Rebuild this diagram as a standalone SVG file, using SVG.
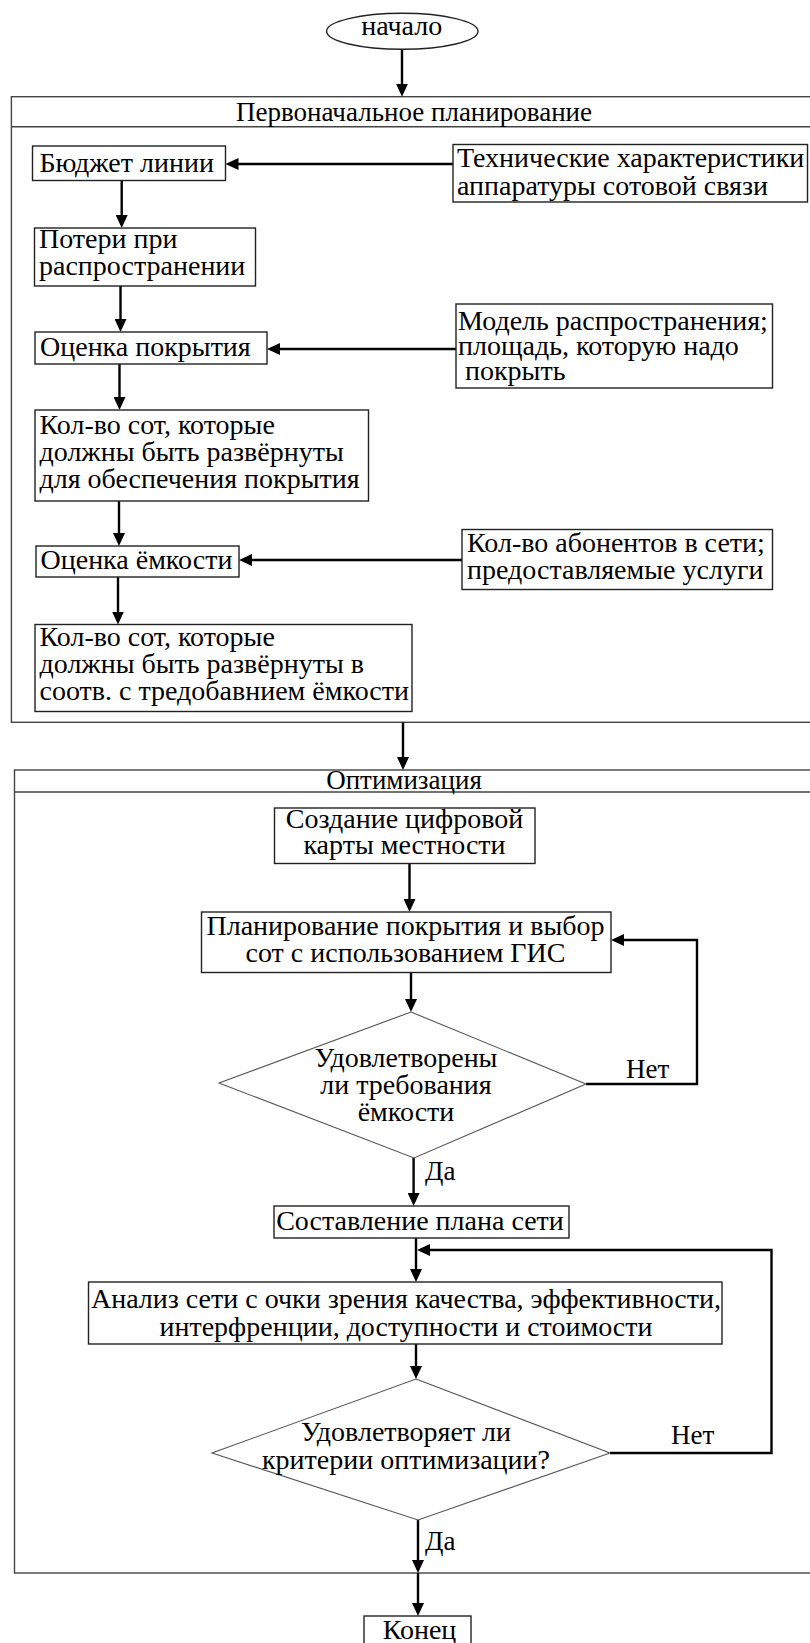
<svg xmlns="http://www.w3.org/2000/svg" width="810" height="1643" viewBox="0 0 810 1643">
<style>
.t{font-family:"Liberation Serif","Times New Roman",serif;font-size:28px;fill:#000}
.h{font-size:27px}
.c{text-anchor:middle}
.box{fill:#fff;stroke:#222;stroke-width:1.4}
.cont{fill:none;stroke:#444;stroke-width:1.4}
.dia{fill:#fff;stroke:#555;stroke-width:1.1}
.conn{fill:none;stroke:#000;stroke-width:2.4}
</style>
<defs>
<marker id="ah" markerUnits="userSpaceOnUse" markerWidth="13" markerHeight="12" refX="6" refY="6" orient="auto"><path d="M0,0 L13,6 L0,12 z" fill="#000"/></marker>
</defs>
<rect width="810" height="1643" fill="#fff"/>

<g id="container-initial">
<rect class="cont" x="11.4" y="96.7" width="830" height="625.6"/>
<line class="cont" x1="11.4" y1="126.7" x2="841" y2="126.7"/>
<text class="t h c" x="414" y="120.5">Первоначальное планирование</text>
</g>
<g id="container-optim">
<rect class="cont" x="14.5" y="770" width="830" height="803"/>
<line class="cont" x1="14.5" y1="792" x2="845" y2="792"/>
<text class="t h c" x="404" y="789">Оптимизация</text>
</g>

<g id="connectors">
<path class="conn" marker-end="url(#ah)" d="M402,49.3 V89.7"/>
<path class="conn" marker-end="url(#ah)" d="M121.7,180.5 V221"/>
<path class="conn" marker-end="url(#ah)" d="M120.5,286 V325"/>
<path class="conn" marker-end="url(#ah)" d="M119.5,364 V403"/>
<path class="conn" marker-end="url(#ah)" d="M119,501 V539"/>
<path class="conn" marker-end="url(#ah)" d="M118,577 V617.5"/>
<path class="conn" marker-end="url(#ah)" d="M403,722.3 V763"/>
<path class="conn" marker-end="url(#ah)" d="M409.5,863.5 V905"/>
<path class="conn" marker-end="url(#ah)" d="M411,972.5 V1005"/>
<path class="conn" marker-end="url(#ah)" d="M413.6,1158 V1199"/>
<path class="conn" marker-end="url(#ah)" d="M416,1238 V1275"/>
<path class="conn" marker-end="url(#ah)" d="M416,1344 V1372"/>
<path class="conn" marker-end="url(#ah)" d="M418,1520 V1566"/>
<path class="conn" marker-end="url(#ah)" d="M418,1573 V1609"/>
<path class="conn" marker-end="url(#ah)" d="M453,164 H232.5"/>
<path class="conn" marker-end="url(#ah)" d="M456,349 H274"/>
<path class="conn" marker-end="url(#ah)" d="M462,560 H246"/>
<path class="conn" marker-end="url(#ah)" d="M586,1084 H697 V940 H618"/>
<path class="conn" marker-end="url(#ah)" d="M610,1453 H771.5 V1250 H424"/>
<text class="t h" x="626" y="1078">Нет</text>
<text class="t h" x="425" y="1180">Да</text>
<text class="t h" x="671" y="1444">Нет</text>
<text class="t h" x="425" y="1550">Да</text>
</g>

<g id="start">
<ellipse cx="402.3" cy="31.3" rx="75.7" ry="18" class="box"/>
<text class="t c" x="401.7" y="35">начало</text>
</g>
<g id="budget">
<rect class="box" x="32.5" y="146" width="193" height="34.5"/>
<text class="t" x="39.5" y="172">Бюджет линии</text>
</g>
<g id="tech">
<rect class="box" x="453" y="144.5" width="354.5" height="57.5"/>
<text class="t"><tspan x="457" y="167">Технические характеристики</tspan><tspan x="457" y="195">аппаратуры сотовой связи</tspan></text>
</g>
<g id="losses">
<rect class="box" x="34.5" y="228" width="221" height="58"/>
<text class="t"><tspan x="39" y="248">Потери при</tspan><tspan x="39" y="275">распространении</tspan></text>
</g>
<g id="coverage">
<rect class="box" x="35" y="332" width="232" height="32"/>
<text class="t" x="40" y="356">Оценка покрытия</text>
</g>
<g id="model">
<rect class="box" x="456" y="304" width="316.5" height="84"/>
<text class="t" xml:space="preserve"><tspan x="458" y="330">Модель распространения;</tspan><tspan x="458" y="355">площадь, которую надо</tspan><tspan x="458" y="380"> покрыть</tspan></text>
</g>
<g id="cells-coverage">
<rect class="box" x="35" y="410" width="333.5" height="91"/>
<text class="t"><tspan x="39.5" y="434">Кол-во сот, которые</tspan><tspan x="39.5" y="461">должны быть развёрнуты</tspan><tspan x="39.5" y="488">для обеспечения покрытия</tspan></text>
</g>
<g id="capacity">
<rect class="box" x="36" y="546" width="203" height="31"/>
<text class="t" x="40.5" y="569">Оценка ёмкости</text>
</g>
<g id="subscribers">
<rect class="box" x="462" y="529.5" width="310.5" height="60"/>
<text class="t"><tspan x="467" y="552">Кол-во абонентов в сети;</tspan><tspan x="467" y="579">предоставляемые услуги</tspan></text>
</g>
<g id="cells-capacity">
<rect class="box" x="35" y="624.5" width="377" height="87"/>
<text class="t"><tspan x="39.5" y="646">Кол-во сот, которые</tspan><tspan x="39.5" y="673">должны быть развёрнуты в</tspan><tspan x="39.5" y="700">соотв. с тредобавнием ёмкости</tspan></text>
</g>
<g id="digital-map">
<rect class="box" x="274.5" y="808" width="260.5" height="55.5"/>
<text class="t c"><tspan x="404.5" y="828">Создание цифровой</tspan><tspan x="404.5" y="854">карты местности</tspan></text>
</g>
<g id="gis-planning">
<rect class="box" x="201.5" y="912" width="409.5" height="60.5"/>
<text class="t c"><tspan x="405.5" y="935">Планирование покрытия и выбор</tspan><tspan x="405.5" y="962">сот с использованием ГИС</tspan></text>
</g>
<g id="decision-capacity">
<polygon class="dia" points="411,1012 586,1084 414,1158 219,1083"/>
<text class="t c"><tspan x="406" y="1067">Удовлетворены</tspan><tspan x="406" y="1094">ли требования</tspan><tspan x="406" y="1121">ёмкости</tspan></text>
</g>
<g id="network-plan">
<rect class="box" x="274" y="1206" width="295" height="32"/>
<text class="t c" x="420" y="1230">Составление плана сети</text>
</g>
<g id="analysis">
<rect class="box" x="88.5" y="1282" width="633.5" height="62"/>
<text class="t c"><tspan x="406" y="1308">Анализ сети с очки зрения качества, эффективности,</tspan><tspan x="406" y="1336">интерфренции, доступности и стоимости</tspan></text>
</g>
<g id="decision-optim">
<polygon class="dia" points="416,1379 610,1453 418,1520 212,1453"/>
<text class="t c"><tspan x="406" y="1441">Удовлетворяет ли</tspan><tspan x="406" y="1469">критерии оптимизации?</tspan></text>
</g>
<g id="end">
<rect class="box" x="364" y="1616" width="107" height="40"/>
<text class="t c" x="419.5" y="1639">Конец</text>
</g>
</svg>
